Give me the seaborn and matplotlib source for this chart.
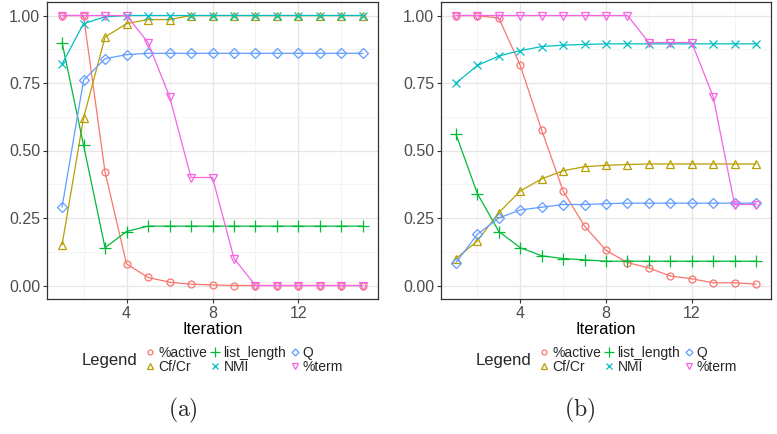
import matplotlib
matplotlib.use("Agg")
import matplotlib.pyplot as plt
from matplotlib.lines import Line2D
from matplotlib.ticker import MultipleLocator
import seaborn as sns
import pandas as pd

# values, iterations 1..15
iterations = list(range(1, 16))
series_names = ["%active", "Cf/Cr", "list_length", "NMI", "Q", "%term"]

# panel (a)
a_active = [1.0, 1.0, 0.42, 0.08, 0.03, 0.012, 0.005, 0.002, 0.0, 0.0, 0.0, 0.0, 0.0, 0.0, 0.0]
a_cfcr = [0.15, 0.62, 0.92, 0.97, 0.985, 0.985, 1.0, 1.0, 1.0, 1.0, 1.0, 1.0, 1.0, 1.0, 1.0]
a_list_length = [0.90, 0.52, 0.14, 0.20, 0.22, 0.22, 0.22, 0.22, 0.22, 0.22, 0.22, 0.22, 0.22, 0.22, 0.22]
a_nmi = [0.82, 0.97, 0.995, 1.0, 1.0, 1.0, 1.0, 1.0, 1.0, 1.0, 1.0, 1.0, 1.0, 1.0, 1.0]
a_q = [0.29, 0.76, 0.84, 0.855, 0.86, 0.86, 0.86, 0.86, 0.86, 0.86, 0.86, 0.86, 0.86, 0.86, 0.86]
a_term = [1.0, 1.0, 1.0, 1.0, 0.90, 0.70, 0.40, 0.40, 0.10, 0.0, 0.0, 0.0, 0.0, 0.0, 0.0]

# panel (b)
b_active = [1.0, 1.0, 0.99, 0.815, 0.575, 0.35, 0.22, 0.13, 0.085, 0.065, 0.035, 0.025, 0.01, 0.01, 0.005]
b_cfcr = [0.10, 0.165, 0.27, 0.35, 0.395, 0.425, 0.44, 0.445, 0.448, 0.45, 0.45, 0.45, 0.45, 0.45, 0.45]
b_list_length = [0.56, 0.34, 0.20, 0.14, 0.11, 0.10, 0.095, 0.09, 0.09, 0.09, 0.09, 0.09, 0.09, 0.09, 0.09]
b_nmi = [0.75, 0.815, 0.85, 0.87, 0.885, 0.89, 0.893, 0.895, 0.895, 0.895, 0.895, 0.895, 0.895, 0.895, 0.895]
b_q = [0.085, 0.19, 0.25, 0.28, 0.29, 0.30, 0.30, 0.303, 0.305, 0.305, 0.305, 0.305, 0.305, 0.305, 0.305]
b_term = [1.0, 1.0, 1.0, 1.0, 1.0, 1.0, 1.0, 1.0, 1.0, 0.90, 0.90, 0.90, 0.70, 0.30, 0.30]

panel_a = [a_active, a_cfcr, a_list_length, a_nmi, a_q, a_term]
panel_b = [b_active, b_cfcr, b_list_length, b_nmi, b_q, b_term]

palette = dict(zip(series_names, ["#F8766D", "#B79F00", "#00BA38", "#00BFC4", "#619CFF", "#F564E3"]))
markers = dict(zip(series_names, ["o", "^", "+", "x", "D", "v"]))
msizes = dict(zip(series_names, [5, 6, 8, 6, 5, 6]))

sns.set_theme(style="white")
plt.rcParams["font.family"] = ["Liberation Sans", "DejaVu Sans"]
plt.rcParams["mathtext.fontset"] = "cm"


def draw_panel(ax, values):
    for name, vals in zip(series_names, values):
        df = pd.DataFrame({"Iteration": iterations, "value": vals})
        sns.lineplot(data=df, x="Iteration", y="value", color=palette[name],
                     marker=markers[name], markersize=msizes[name],
                     markerfacecolor="none", markeredgecolor=palette[name],
                     markeredgewidth=0.9, linewidth=0.9, ax=ax)

    ax.set_xlim(0.3, 15.7)
    ax.set_ylim(-0.05, 1.05)
    ax.set_xticks([4, 8, 12])
    ax.set_yticks([0, 0.25, 0.5, 0.75, 1.0])
    ax.set_yticklabels(["0.00", "0.25", "0.50", "0.75", "1.00"])
    ax.xaxis.set_minor_locator(MultipleLocator(2))
    ax.yaxis.set_minor_locator(MultipleLocator(0.125))
    ax.grid(True, which="major", color="#E6E6E6", linewidth=0.9)
    ax.grid(True, which="minor", color="#F2F2F2", linewidth=0.6)
    ax.set_axisbelow(True)
    for sp in ax.spines.values():
        sp.set_color("#333333")
        sp.set_linewidth(0.9)
    ax.tick_params(which="major", length=3, width=0.8, color="#333333",
                   labelsize=11.5, labelcolor="#4D4D4D", pad=2, bottom=True, left=True)
    ax.tick_params(which="minor", length=0)
    ax.set_xlabel("Iteration", fontsize=12, labelpad=1, color="black")
    ax.set_ylabel("")


fig = plt.figure(figsize=(7.77, 4.34), dpi=100)
ax_a = fig.add_axes([47 / 777, 1 - 299 / 434, 331 / 777, 297 / 434])
ax_b = fig.add_axes([441 / 777, 1 - 299 / 434, 330 / 777, 297 / 434])

draw_panel(ax_a, panel_a)
draw_panel(ax_b, panel_b)

handles = [Line2D([], [], linestyle="none", marker=markers[n], markersize=msizes[n] - 1.5,
                  markerfacecolor="none", markeredgecolor=palette[n], markeredgewidth=0.9)
           for n in series_names]

for x_title, x_leg, x_cap, cap in [(82, 146, 183, "a"), (476, 540, 580, "b")]:
    fig.text(x_title / 777, 1 - 360 / 434, "Legend", fontsize=12, ha="left", va="center")
    fig.legend(handles, series_names, ncol=3, loc="center left",
               bbox_to_anchor=(x_leg / 777, 1 - 360 / 434), bbox_transform=fig.transFigure,
               frameon=False, fontsize=10, handlelength=0.6, handletextpad=0.28,
               columnspacing=0.3, labelspacing=0.05, borderpad=0, borderaxespad=0)
    fig.text(x_cap / 777, 1 - 410 / 434, r"$(\mathrm{%s})$" % cap, fontsize=17,
             ha="center", va="center")

fig.savefig("out.png", dpi=100)
